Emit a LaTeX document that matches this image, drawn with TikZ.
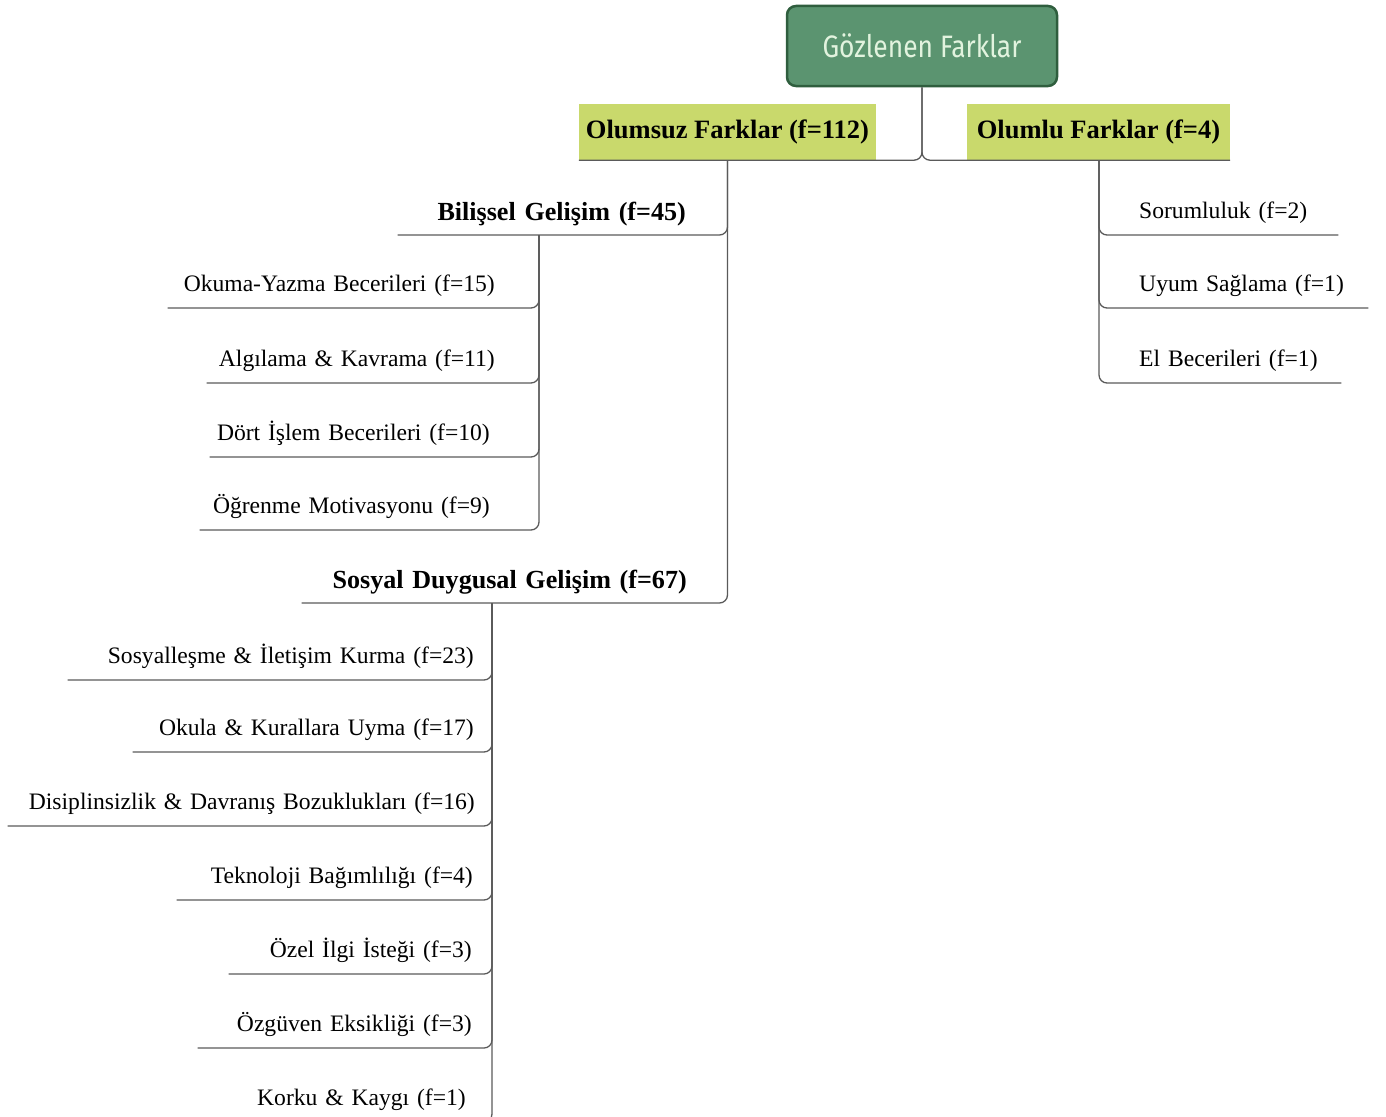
\documentclass[tikz,border=0pt]{standalone}
\usepackage{fontspec}
\setmainfont{Liberation Serif}
\newfontfamily\rootfont[FakeStretch=0.85]{Fira Sans}
\definecolor{rootgreen}{HTML}{5B9470}
\definecolor{rootedge}{HTML}{2F5E3E}
\definecolor{roottext}{HTML}{E2F3DE}
\definecolor{lime}{HTML}{C9D96C}
\definecolor{linkgray}{HTML}{5A5A5A}
\tikzset{
  rootbox/.style={draw=rootedge, line width=2.5pt, fill=rootgreen, rounded corners=9pt,
    minimum width=270pt, minimum height=80pt, text=roottext, font=\rootfont\fontsize{31}{34}\selectfont},
  groupbox/.style={fill=lime, inner sep=0pt, minimum height=56pt, font=\bfseries\fontsize{26.5}{30}\selectfont},
  headleaf/.style={inner xsep=0pt, inner ysep=0pt, text depth=14pt, align=right, anchor=south east,
    font=\bfseries\fontsize{26.1}{30}\selectfont},
  leaf/.style={inner xsep=0pt, inner ysep=0pt, text depth=16pt, align=right, anchor=south east,
    font=\fontsize{23.6}{28}\selectfont},
  rightleaf/.style={leaf, align=left, anchor=south west},
  link/.style={draw=linkgray, line width=1.3pt, rounded corners=8pt}
}
\begin{document}
\begin{tikzpicture}[x=1pt, y=-1pt]
    \useasboundingbox (0,0) rectangle (1386,1116);
    % Nodes
    \node[rootbox] (root) at (922,46) {Gözlenen Farklar};
    \node[groupbox, minimum width=297pt] (neg) at (727.5,132) {Olumsuz Farklar (f=112)};
    \node[groupbox, minimum width=263pt] (pos) at (1098.5,132) {Olumlu Farklar (f=4)};

    \node[headleaf, text width=288pt] (bilisel) at (686,235) {Bilişsel Gelişim (f=45)};
    \node[leaf, text width=327pt] (okuma) at (495,308) {Okuma-Yazma Becerileri (f=15)};
    \node[leaf, text width=288pt] (algilama) at (495,383) {Algılama \& Kavrama (f=11)};
    \node[leaf, text width=280pt] (islem) at (490,457) {Dört İşlem Becerileri (f=10)};
    \node[leaf, text width=290pt] (motivasyon) at (490,530) {Öğrenme Motivasyonu (f=9)};

    \node[headleaf, text width=385pt] (sosyal) at (687,603) {Sosyal Duygusal Gelişim (f=67)};
    \node[leaf, text width=406pt] (iletisim) at (474,680) {Sosyalleşme \& İletişim Kurma (f=23)};
    \node[leaf, text width=341pt] (kural) at (474,752) {Okula \& Kurallara Uyma (f=17)};
    \node[leaf, text width=467pt] (disiplin) at (475,826) {Disiplinsizlik \& Davranış Bozuklukları (f=16)};
    \node[leaf, text width=296pt] (teknoloji) at (473,900) {Teknoloji Bağımlılığı (f=4)};
    \node[leaf, text width=243pt] (ilgi) at (472,974) {Özel İlgi İsteği (f=3)};
    \node[leaf, text width=274pt] (ozguven) at (472,1048) {Özgüven Eksikliği (f=3)};
    \node[leaf, text width=236pt] (korku) at (466,1122) {Korku \& Kaygı (f=1)};

    \node[rightleaf, text width=199pt] (sorumluluk) at (1139,235) {Sorumluluk (f=2)};
    \node[rightleaf, text width=229pt] (uyum) at (1139,308) {Uyum Sağlama (f=1)};
    \node[rightleaf, text width=202pt] (el) at (1139,383) {El Becerileri (f=1)};

    \coordinate (bilisel-j) at (539,235);
    \coordinate (sosyal-j) at (492,603);
    \coordinate (pos-j) at (1099,160);

    % Edges
    \draw[link] (root.south) |- (neg.south west);
    \draw[link] (root.south) |- (pos.south east);
    \draw[link] (neg.south) |- (bilisel.south west);
    \draw[link] (neg.south) |- (sosyal.south west);
    \foreach \c in {okuma, algilama, islem, motivasyon}
        \draw[link] (bilisel-j) |- (\c.south west);
    \foreach \c in {iletisim, kural, disiplin, teknoloji, ilgi, ozguven, korku}
        \draw[link] (sosyal-j) |- (\c.south west);
    \foreach \c in {sorumluluk, uyum, el}
        \draw[link] (pos-j) |- (\c.south east);
\end{tikzpicture}
\end{document}
